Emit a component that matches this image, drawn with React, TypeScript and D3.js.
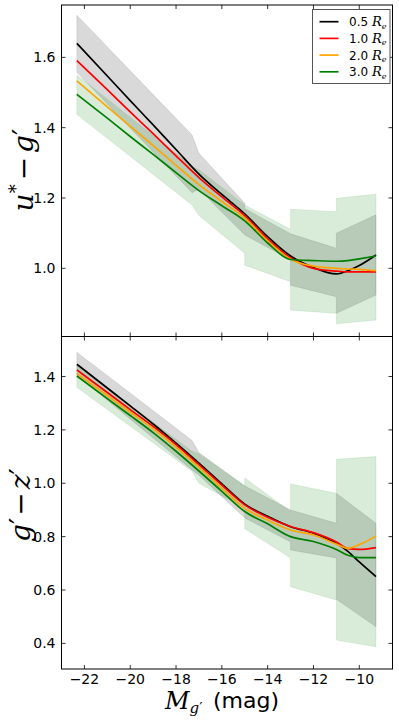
import React from "react";
import * as d3 from "d3";

const W = 399;
const H = 726;

// magnitudes where the running medians were read
const mag = [-22.33, -21, -20, -19, -18, -17, -16, -15, -14, -13, -12, -11, -10.5, -10, -9.27];

// u* - g'
const topR05 = [1.640, 1.547, 1.477, 1.408, 1.338, 1.268, 1.210, 1.155, 1.090, 1.035, 1.002, 0.984, 0.993, 1.008, 1.038];
const topR10 = [1.591, 1.508, 1.445, 1.383, 1.320, 1.258, 1.203, 1.150, 1.084, 1.030, 1.000, 0.992, 0.990, 0.990, 0.990];
const topR20 = [1.533, 1.459, 1.404, 1.349, 1.293, 1.238, 1.190, 1.143, 1.078, 1.026, 1.006, 1.000, 0.998, 0.997, 0.993];
const topR30 = [1.495, 1.427, 1.375, 1.324, 1.272, 1.221, 1.178, 1.135, 1.072, 1.025, 1.022, 1.020, 1.022, 1.027, 1.035];

// g' - z'
const botR05 = [1.446, 1.357, 1.290, 1.222, 1.150, 1.075, 0.998, 0.922, 0.876, 0.837, 0.813, 0.775, 0.745, 0.705, 0.650];
const botR10 = [1.425, 1.340, 1.276, 1.213, 1.145, 1.070, 0.993, 0.919, 0.873, 0.838, 0.815, 0.780, 0.755, 0.752, 0.759];
const botR20 = [1.412, 1.329, 1.266, 1.204, 1.135, 1.060, 0.982, 0.906, 0.862, 0.825, 0.806, 0.772, 0.756, 0.770, 0.802];
const botR30 = [1.402, 1.317, 1.254, 1.190, 1.120, 1.046, 0.970, 0.894, 0.848, 0.800, 0.782, 0.752, 0.730, 0.721, 0.721];

// scatter bands (binned, so the edges jump)
const bandX = [-22.33, -17.3, -17.0, -15, -15, -13, -13, -11, -11, -9.27];
const topGrayHi = [1.720, 1.379, 1.327, 1.185, 1.170, 1.098, 1.098, 1.057, 1.100, 1.152];
const topGrayLo = [1.558, 1.215, 1.225, 1.095, 1.095, 1.024, 0.952, 0.919, 0.872, 0.924];
const topGreenHi = [1.550, 1.290, 1.280, 1.180, 1.180, 1.111, 1.168, 1.161, 1.199, 1.211];
const topGreenLo = [1.438, 1.180, 1.150, 1.043, 1.009, 0.962, 0.881, 0.872, 0.842, 0.853];
const botGrayHi = [1.491, 1.160, 1.115, 0.990, 0.990, 0.900, 0.900, 0.850, 0.9625, 0.850];
const botGrayLo = [1.405, 1.050, 1.030, 0.870, 0.870, 0.780, 0.750, 0.720, 0.565, 0.4625];
const botGreenHi = [1.440, 1.120, 1.110, 0.990, 1.020, 0.894, 0.9975, 0.9625, 1.090, 1.100];
const botGreenLo = [1.360, 1.045, 1.000, 0.906, 0.830, 0.720, 0.6125, 0.5625, 0.4125, 0.3875];

const radii = ["0.5", "1.0", "2.0", "3.0"];
const colors = ["#000000", "#ff0000", "#ffa500", "#008000"];
const xTicks = [-22, -20, -18, -16, -14, -12, -10];
const topTicks = [1.0, 1.2, 1.4, 1.6];
const botTicks = [0.4, 0.6, 0.8, 1.0, 1.2, 1.4];

const L = 61.5, R = 392.5;
const x = d3.scaleLinear().domain([-23.0, -8.55]).range([L, R]);

const sans = "DejaVu Sans, sans-serif";
const serif = "DejaVu Serif, serif";

function Panel({ id, y, top, bottom, ticks, lines, gray, green, bottomLabels }) {
  const line = d3.line().x((d) => x(d[0])).y((d) => y(d[1])).curve(d3.curveMonotoneX);
  const area = d3.area().x((d) => x(d[0])).y0((d) => y(d[1])).y1((d) => y(d[2]));
  const bandData = (lo, hi) => bandX.map((v, i) => [v, lo[i], hi[i]]);
  const fmt = d3.format(".1f");
  return (
    <g>
      <defs>
        <clipPath id={id}>
          <rect x={L} y={top} width={R - L} height={bottom - top} />
        </clipPath>
      </defs>
      <g clipPath={`url(#${id})`}>
        <path d={area(bandData(gray[0], gray[1]))} fill="#000" fillOpacity={0.15} stroke="#000" strokeOpacity={0.12} strokeWidth={0.8} />
        <path d={area(bandData(green[0], green[1]))} fill="#008000" fillOpacity={0.15} stroke="#008000" strokeOpacity={0.12} strokeWidth={0.8} />
        {lines.map((s, i) => (
          <path key={i} d={line(mag.map((m, j) => [m, s[j]]))} fill="none" stroke={colors[i]} strokeWidth={1.7} />
        ))}
      </g>
      <rect x={L} y={top} width={R - L} height={bottom - top} fill="none" stroke="#000" strokeWidth={1} />
      {xTicks.map((t) => (
        <g key={t}>
          <line x1={x(t)} x2={x(t)} y1={top} y2={top + 4} stroke="#000" strokeWidth={0.8} />
          <line x1={x(t)} x2={x(t)} y1={bottom} y2={bottom - 4} stroke="#000" strokeWidth={0.8} />
          {bottomLabels && (
            <text x={x(t)} y={bottom + 15} textAnchor="middle" fontFamily={sans} fontSize={14}>
              {"\u2212" + Math.abs(t)}
            </text>
          )}
        </g>
      ))}
      {ticks.map((t) => (
        <g key={t}>
          <line x1={L} x2={L + 4} y1={y(t)} y2={y(t)} stroke="#000" strokeWidth={0.8} />
          <line x1={R} x2={R - 4} y1={y(t)} y2={y(t)} stroke="#000" strokeWidth={0.8} />
          <text x={L - 6} y={y(t) + 5} textAnchor="end" fontFamily={sans} fontSize={14}>
            {fmt(t)}
          </text>
        </g>
      ))}
    </g>
  );
}

export default function App() {
  const yTop = d3.scaleLinear().domain([0.806, 1.749]).range([336.5, 5]);
  const yBot = d3.scaleLinear().domain([0.304, 1.55]).range([669, 336.5]);
  return (
    <svg width={W} height={H} style={{ position: "absolute", left: 0, top: 0, background: "#fff" }}>
      <rect width={W} height={H} fill="#fff" />
      <Panel id="cTop" y={yTop} top={5} bottom={336.5} ticks={topTicks}
        lines={[topR05, topR10, topR20, topR30]}
        gray={[topGrayLo, topGrayHi]} green={[topGreenLo, topGreenHi]} bottomLabels={false} />
      <Panel id="cBot" y={yBot} top={336.5} bottom={669} ticks={botTicks}
        lines={[botR05, botR10, botR20, botR30]}
        gray={[botGrayLo, botGrayHi]} green={[botGreenLo, botGreenHi]} bottomLabels={true} />

      {/* y labels */}
      <text transform="translate(33,170) rotate(-90)" textAnchor="middle" fontFamily={serif} fontSize={28}>
        <tspan fontStyle="italic">u</tspan>
        <tspan fontSize={18} dy={-11}>*</tspan>
        <tspan dy={11} dx={4}>{"\u2212"}</tspan>
        <tspan fontStyle="italic" dx={4}>g</tspan>
        <tspan>{"\u2032"}</tspan>
      </text>
      <text transform="translate(30,505) rotate(-90)" textAnchor="middle" fontFamily={serif} fontSize={28}>
        <tspan fontStyle="italic">g</tspan>
        <tspan>{"\u2032"}</tspan>
        <tspan dx={2}>{"\u2212"}</tspan>
        <tspan fontStyle="italic" dx={3}>z</tspan>
        <tspan>{"\u2032"}</tspan>
      </text>

      {/* x label */}
      <text x={165} y={709} fontFamily={serif} fontSize={24}>
        <tspan fontStyle="italic">M</tspan>
        <tspan fontStyle="italic" fontSize={15} dy={4}>g</tspan>
        <tspan fontSize={15}>{"\u2032"}</tspan>
      </text>
      <text x={213} y={708} fontFamily={sans} fontSize={22}>(mag)</text>

      {/* legend */}
      <g>
        <rect x={312.5} y={9.5} width={77.5} height={74} fill="#fff" stroke="#555" strokeWidth={1} />
        {radii.map((r, i) => {
          const yy = 21.7 + i * 16.7;
          return (
            <g key={r}>
              <line x1={319.5} x2={338.5} y1={yy} y2={yy} stroke={colors[i]} strokeWidth={1.7} />
              <text x={349} y={yy + 4.5} fontFamily={sans} fontSize={12}>
                {r + " "}
                <tspan fontFamily={serif} fontStyle="italic" fontSize={13}>R</tspan>
                <tspan fontFamily={serif} fontStyle="italic" fontSize={8} dy={2.5}>e</tspan>
              </text>
            </g>
          );
        })}
      </g>
    </svg>
  );
}
